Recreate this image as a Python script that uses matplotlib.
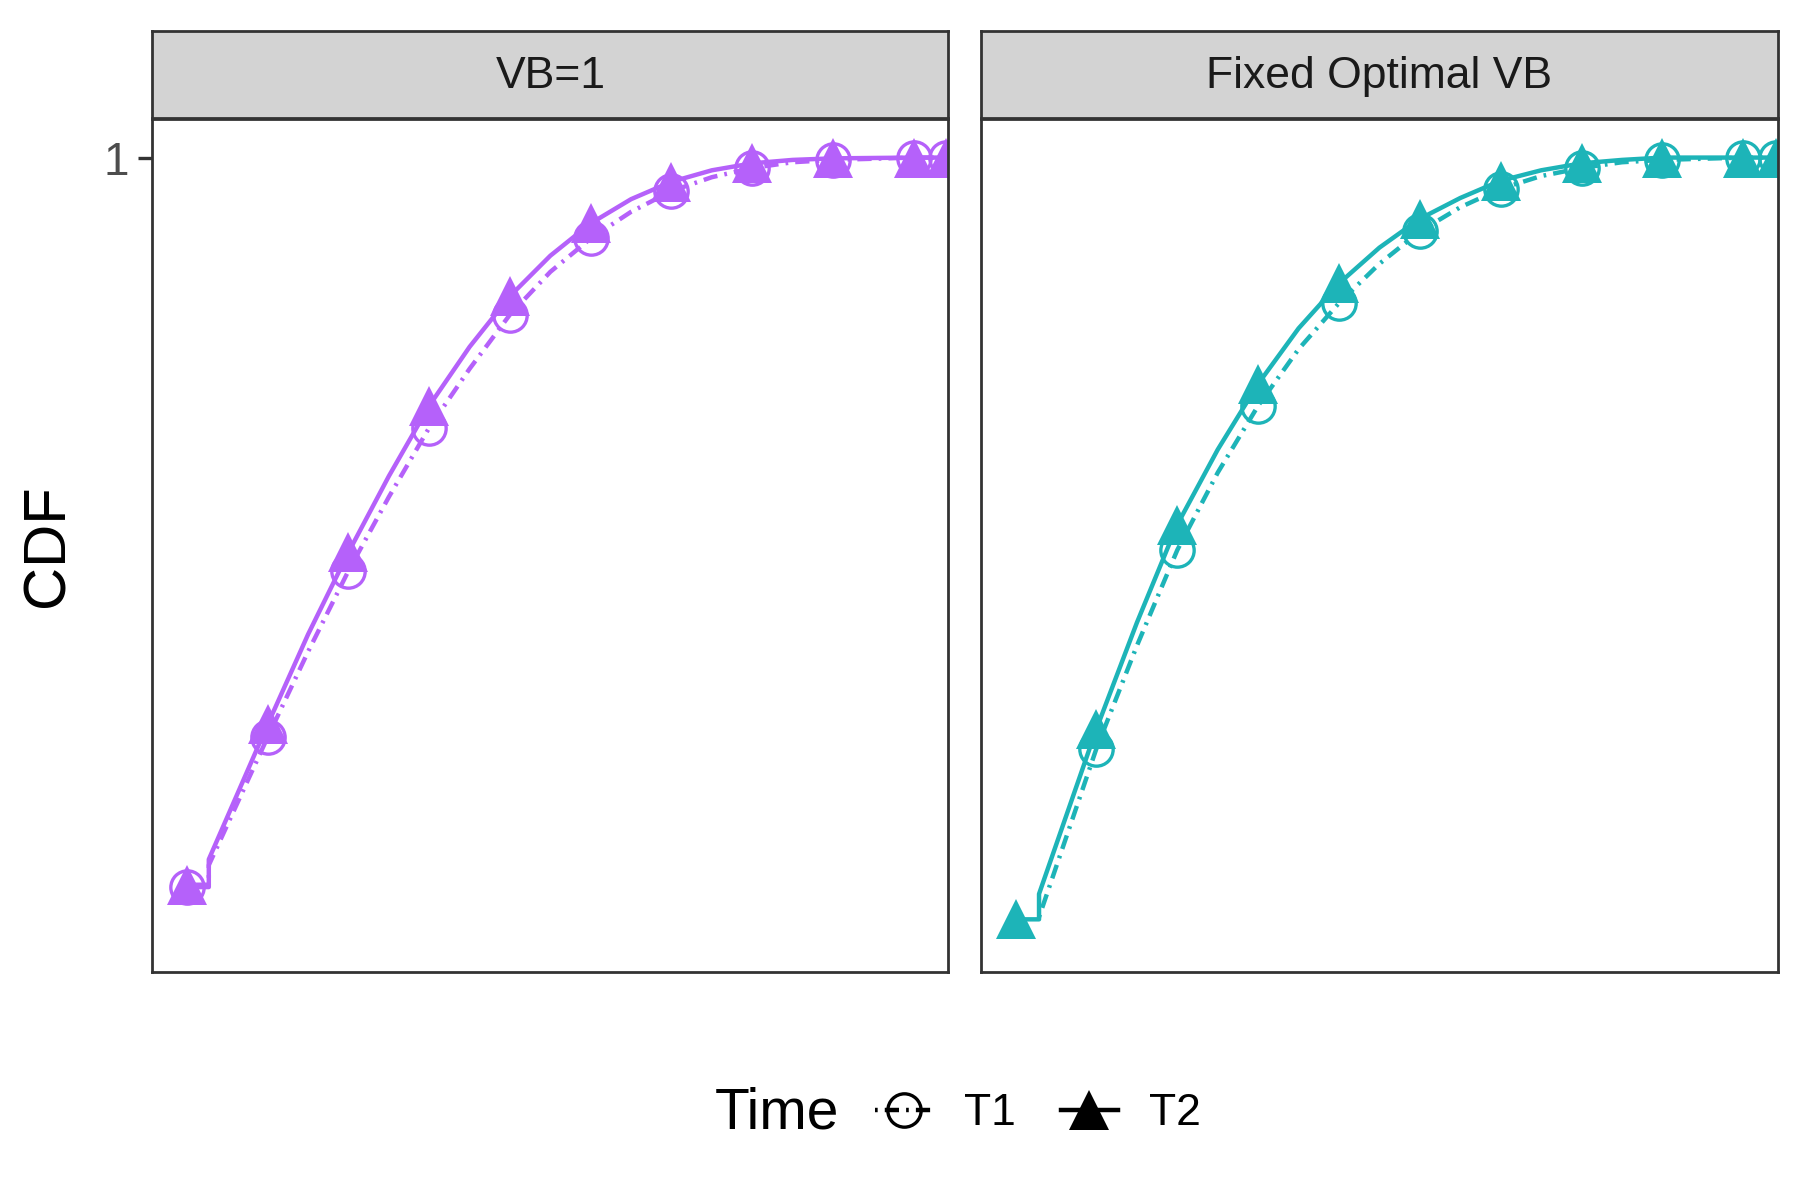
import matplotlib.pyplot as plt
from matplotlib.lines import Line2D
import numpy as np

plt.rcParams['font.family'] = ['Liberation Sans', 'DejaVu Sans']

panels = ['VB=1', 'Fixed Optimal VB']
colors = ['#B561FA', '#1DB4B8']
mark_x = [0, 1, 2, 3, 4, 5, 6, 7, 8, 9, 9.4]

# VB=1
left_t2_x = [0, 0.27, 0.27, 1, 1.5, 2, 2.5, 3, 3.5, 4, 4.5, 5, 5.5, 6, 6.5, 7, 7.5, 8, 9, 9.4]
left_t2_y = [0.0625, 0.0625, 0.0952, 0.2693, 0.3854, 0.4911, 0.5893, 0.6801, 0.7560, 0.8214,
             0.8735, 0.9152, 0.9464, 0.9688, 0.9836, 0.9926, 0.9970, 0.9990, 1.0, 1.0]
left_t1_x = [0, 0.27, 0.27, 1, 1.5, 2, 2.5, 3, 3.5, 4, 4.5, 5, 5.5, 6, 6.5, 7, 7.5, 8, 9, 9.4]
left_t1_y = [0.0595, 0.0595, 0.0878, 0.2530, 0.3631, 0.4673, 0.5625, 0.6518, 0.7277, 0.7976,
             0.8527, 0.8958, 0.9301, 0.9568, 0.9747, 0.9866, 0.9940, 0.9970, 1.0, 1.0]

# Fixed Optimal VB
right_t2_x = [0, 0.29, 0.29, 1, 1.5, 2, 2.5, 3, 3.5, 4, 4.5, 5, 5.5, 6, 6.5, 7, 7.5, 8, 9, 9.4]
right_t2_y = [0.0179, 0.0179, 0.0506, 0.2634, 0.4003, 0.5268, 0.6235, 0.7083, 0.7798, 0.8378,
              0.8839, 0.9211, 0.9479, 0.9702, 0.9836, 0.9926, 0.9970, 1.0, 1.0, 1.0]
right_t1_x = [0.29, 1, 1.5, 2, 2.5, 3, 3.5, 4, 4.5, 5, 5.5, 6, 6.5, 7, 7.5, 8, 9, 9.4]
right_t1_y = [0.0208, 0.2381, 0.3705, 0.4940, 0.5938, 0.6801, 0.7530, 0.8125, 0.8631, 0.9048,
              0.9360, 0.9598, 0.9762, 0.9866, 0.9940, 0.9970, 1.0, 1.0]

series = [
    [(left_t1_x, left_t1_y), (left_t2_x, left_t2_y)],
    [(right_t1_x, right_t1_y), (right_t2_x, right_t2_y)],
]

dotdash = (0, (0.6, 1.6, 3.2, 1.6))
edge = '#333333'
lw = 3.2

fig = plt.figure(figsize=(18, 12), dpi=100)
ax_pos = [[0.0846, 0.190, 0.4423, 0.711], [0.5449, 0.190, 0.4429, 0.711]]
strip_pos = [[0.0846, 0.902, 0.4423, 0.072], [0.5449, 0.902, 0.4429, 0.072]]

for i, name in enumerate(panels):
    ax = fig.add_axes(ax_pos[i])
    col = colors[i]
    (x1, y1), (x2, y2) = series[i]
    x1 = np.array(x1); y1 = np.array(y1)
    x2 = np.array(x2); y2 = np.array(y2)
    ax.plot(x1, y1, color=col, lw=lw, ls=dotdash)
    ax.plot(x2, y2, color=col, lw=lw)
    m1 = np.isin(x1, mark_x) & ~np.r_[False, x1[1:] == x1[:-1]]
    m2 = np.isin(x2, mark_x) & ~np.r_[False, x2[1:] == x2[:-1]]
    ax.plot(x1[m1], y1[m1], ls='none', marker='o', ms=24, mfc='none', mec=col, mew=2.4)
    ax.plot(x2[m2], y2[m2], ls='none', marker='^', ms=29, color=col, mew=0)
    ax.set_xlim(-0.43, 9.43)
    ax.set_ylim(-0.05, 1.05)
    ax.set_xticks([])
    if i == 0:
        ax.set_yticks([1])
        ax.set_yticklabels(['1'])
        ax.tick_params(axis='y', length=10, width=2.4, color=edge, labelsize=33,
                       labelcolor='#4D4D4D', pad=7)
        ax.set_ylabel('CDF', fontsize=43, labelpad=20)
    else:
        ax.set_yticks([])
    for s in ax.spines.values():
        s.set_color(edge)
        s.set_linewidth(2)

    sax = fig.add_axes(strip_pos[i])
    sax.set_facecolor('#D3D3D3')
    sax.set_xticks([])
    sax.set_yticks([])
    for s in sax.spines.values():
        s.set_color(edge)
        s.set_linewidth(2)
    sax.text(0.5, 0.47, name, ha='center', va='center', fontsize=32,
             color='#1A1A1A', transform=sax.transAxes)

fig.text(0.397, 0.072, 'Time', fontsize=41, ha='left', va='center')
handles = [
    Line2D([], [], color='black', lw=lw, ls=dotdash, marker='o', ms=24,
           mfc='none', mec='black', mew=2.4),
    Line2D([], [], color='black', lw=lw, marker='^', ms=29, mew=0),
]
fig.legend(handles, ['T1', 'T2'], loc='center left', bbox_to_anchor=(0.474, 0.072),
           ncol=2, frameon=False, fontsize=32, handlelength=1.3,
           handletextpad=0.7, columnspacing=1.0, borderpad=0)

fig.savefig('out.png', dpi=100)
